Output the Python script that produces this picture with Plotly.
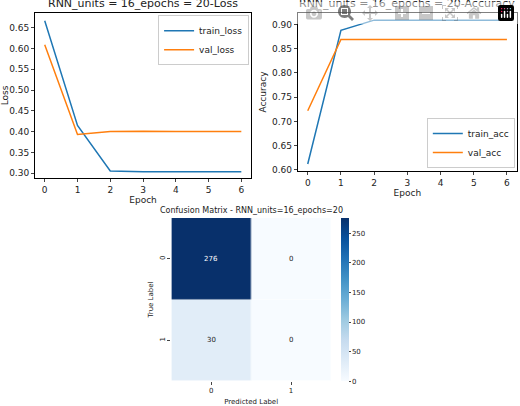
import plotly.graph_objects as go

epochs = [0, 1, 2, 3, 4, 5, 6]
train_loss = [0.667, 0.415, 0.305, 0.303, 0.303, 0.303, 0.303]
val_loss = [0.609, 0.393, 0.400, 0.401, 0.400, 0.400, 0.400]
train_acc = [0.612, 0.888, 0.909, 0.909, 0.909, 0.909, 0.909]
val_acc = [0.722, 0.869, 0.869, 0.869, 0.869, 0.869, 0.869]
cm_labels = ["0", "1"]
cm = [[276, 0], [30, 0]]

BLUE = "#1f77b4"
ORANGE = "#ff7f0e"
F = dict(family="DejaVu Sans", size=9, color="#222")
FS = dict(family="DejaVu Sans", size=7, color="#222")

fig = go.Figure()
fig.add_trace(go.Scatter(x=epochs, y=train_loss, mode="lines", name="train_loss",
                         line=dict(color=BLUE, width=1.5), xaxis="x", yaxis="y", legend="legend"))
fig.add_trace(go.Scatter(x=epochs, y=val_loss, mode="lines", name="val_loss",
                         line=dict(color=ORANGE, width=1.5), xaxis="x", yaxis="y", legend="legend"))
fig.add_trace(go.Scatter(x=epochs, y=train_acc, mode="lines", name="train_acc",
                         line=dict(color=BLUE, width=1.5), xaxis="x2", yaxis="y2", legend="legend2"))
fig.add_trace(go.Scatter(x=epochs, y=val_acc, mode="lines", name="val_acc",
                         line=dict(color=ORANGE, width=1.5), xaxis="x2", yaxis="y2", legend="legend2"))
fig.add_trace(go.Heatmap(z=cm, x=cm_labels, y=cm_labels, colorscale="Blues", xaxis="x3", yaxis="y3",
                         zmin=0, zmax=276, xgap=0.5, ygap=0.5,
                         colorbar=dict(x=0.654, xanchor="left", y=0.052, yanchor="bottom", len=0.406,
                                       lenmode="fraction", thickness=8, outlinewidth=0, xpad=0, ypad=0,
                                       tickvals=[0, 50, 100, 150, 200, 250], ticks="outside",
                                       ticklen=2, tickfont=FS),
                         showlegend=False))

anns = []
for i, row in enumerate(cm):
    for j, v in enumerate(row):
        anns.append(dict(x=cm_labels[j], y=cm_labels[i], xref="x3", yref="y3", text=str(v), showarrow=False,
                         font=dict(family="DejaVu Sans", size=7, color="white" if v > 150 else "#222")))

ax = dict(showline=True, mirror=True, linecolor="black", linewidth=0.8, ticks="outside", ticklen=3,
          showgrid=False, zeroline=False, tickfont=F)
fig.update_layout(
    width=520, height=406, margin=dict(l=0, r=0, t=0, b=0),
    plot_bgcolor="white", paper_bgcolor="white", font=F, annotations=anns,
    xaxis=dict(domain=[0.0635, 0.481], range=[-0.3, 6.3], tickvals=epochs, anchor="y",
               title=dict(text="Epoch", font=F, standoff=2), **ax),
    yaxis=dict(domain=[0.557, 0.968], range=[0.288, 0.686], dtick=0.05, tickformat=".2f", anchor="x",
               title=dict(text="Loss", font=F, standoff=3), **ax),
    xaxis2=dict(domain=[0.571, 0.994], range=[-0.3, 6.3], tickvals=epochs, anchor="y2",
                title=dict(text="Epoch", font=F, standoff=2), **ax),
    yaxis2=dict(domain=[0.574, 0.968], range=[0.597, 0.924], dtick=0.05, tickformat=".2f", anchor="x2",
                title=dict(text="Accuracy", font=F, standoff=3), **ax),
    xaxis3=dict(domain=[0.327, 0.635], anchor="y3", showgrid=False, ticks="outside", ticklen=3,
                tickfont=FS, title=dict(text="Predicted Label", font=FS, standoff=4)),
    yaxis3=dict(domain=[0.052, 0.458], anchor="x3", autorange="reversed", showgrid=False, ticks="outside",
                ticklen=3, tickangle=-90, tickfont=FS, title=dict(text="True Label", font=FS, standoff=4)),
    legend=dict(x=0.477, xanchor="right", y=0.962, yanchor="top", bgcolor="white", bordercolor="#ccc",
                borderwidth=1, font=F, itemwidth=30, tracegroupgap=0),
    legend2=dict(x=0.99, xanchor="right", y=0.582, yanchor="bottom", bgcolor="white", bordercolor="#ccc",
                 borderwidth=1, font=F, itemwidth=30),
)
titles = [("RNN_units = 16_epochs = 20-Loss", 0.272, 0.970, 11),
          ("RNN_units = 16_epochs = 20-Accuracy", 0.782, 0.970, 11),
          ("Confusion Matrix - RNN_units=16_epochs=20", 0.481, 0.460, 8)]
for t, x, y, s in titles:
    fig.add_annotation(text=t, x=x, y=y, xref="paper", yref="paper", xanchor="center", yanchor="bottom",
                       showarrow=False, font=dict(family="DejaVu Sans", size=s, color="#222"))
fig.write_html("out.html")

with open("out.html", encoding="utf-8") as f:
    html = f.read()
html = html.replace("<head>", "<head><style>html,body{margin:0;padding:0;overflow:hidden}</style>", 1)
with open("out.html", "w", encoding="utf-8") as f:
    f.write(html)
